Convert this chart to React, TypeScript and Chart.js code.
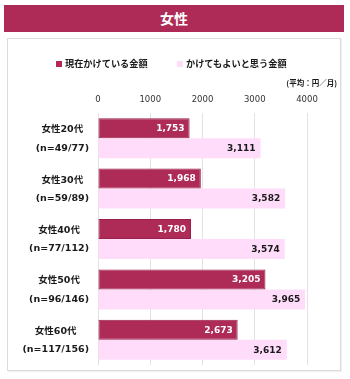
import React, { useEffect, useRef } from "react";
import { Chart, registerables } from "chart.js";

Chart.register(...registerables);

const title = "女性";
const categories = ["女性20代", "女性30代", "女性40代", "女性50代", "女性60代"];
const sampleSizes = ["(n=49/77)", "(n=59/89)", "(n=77/112)", "(n=96/146)", "(n=117/156)"];
const seriesNames = ["現在かけている金額", "かけてもよいと思う金額"];
const currentSpend = [1753, 1968, 1780, 3205, 2673];
const acceptableSpend = [3111, 3582, 3574, 3965, 3612];
const xTickValues = [0, 1000, 2000, 3000, 4000];
const unitLabel = "(平均：円／月)";

const DARK = "#AD2B56";
const DARK_BORDER = "#981F47";
const LIGHT = "#FEDCFA";
const FONT = '"DejaVu Sans", "Noto Sans CJK JP", sans-serif';
const CJK = '"Noto Sans CJK JP", "DejaVu Sans", sans-serif';

const labelPlugin = {
  id: "customLabels",
  afterDatasetsDraw(chart: any) {
    const ctx = chart.ctx;
    ctx.save();
    ctx.font = `bold 9px ${FONT}`;
    ctx.textAlign = "right";
    ctx.textBaseline = "middle";
    chart.data.datasets.forEach((ds: any, di: number) => {
      const meta = chart.getDatasetMeta(di);
      meta.data.forEach((el: any, i: number) => {
        const v = ds.data[i] as number;
        ctx.fillStyle = di === 0 ? "#ffffff" : "#1a1a1a";
        ctx.fillText(v.toLocaleString("en-US"), el.x - 5, el.y + 0.5);
      });
    });
    const yScale = chart.scales.y;
    ctx.fillStyle = "#1a1a1a";
    ctx.textAlign = "center";
    ctx.font = `bold 9.5px ${FONT}`;
    categories.forEach((c, i) => {
      const y = yScale.getPixelForValue(i);
      const w1 = ctx.measureText(c).width;
      const w2 = ctx.measureText(sampleSizes[i]).width;
      const maxW = Math.max(w1, w2);
      const cx = chart.chartArea.left - 9 - maxW / 2;
      ctx.fillText(c, cx, y - 8.5);
      ctx.fillText(sampleSizes[i], cx, y + 10);
    });
    ctx.restore();
  },
};

export default function App() {
  const canvasRef = useRef<HTMLCanvasElement | null>(null);

  useEffect(() => {
    if (!canvasRef.current) return;
    const chart = new Chart(canvasRef.current, {
      type: "bar",
      data: {
        labels: categories,
        datasets: [
          {
            label: seriesNames[0],
            data: currentSpend,
            backgroundColor: DARK,
            borderColor: DARK_BORDER,
            borderWidth: 1,
            borderSkipped: false,
            barPercentage: 1,
            categoryPercentage: 0.794,
          },
          {
            label: seriesNames[1],
            data: acceptableSpend,
            backgroundColor: LIGHT,
            borderWidth: 0,
            barPercentage: 1,
            categoryPercentage: 0.794,
          },
        ],
      },
      options: {
        indexAxis: "y",
        animation: false,
        responsive: true,
        maintainAspectRatio: false,
        layout: { padding: { left: 0, right: 43, top: 0, bottom: 14 } },
        plugins: {
          legend: { display: false },
          tooltip: { enabled: false },
          title: { display: false },
        },
        scales: {
          x: {
            position: "top",
            min: 0,
            max: 4000,
            afterBuildTicks: (scale: any) => {
              scale.ticks = xTickValues.map((v) => ({ value: v }));
            },
            afterFit: (scale: any) => {
              scale.height = 113;
            },
            grid: { color: "#e2e2e2", lineWidth: 1, drawTicks: false },
            border: { display: false },
            ticks: {
              padding: 8,
              color: "#333333",
              font: { family: FONT, size: 8.5 },
              callback: (v: any) => String(v),
            },
          },
          y: {
            afterFit: (scale: any) => {
              scale.width = 98;
            },
            grid: { display: false },
            border: { display: false },
            ticks: { display: false },
          },
        },
      },
      plugins: [labelPlugin],
    });
    return () => chart.destroy();
  }, []);

  return (
    <div style={{ position: "absolute", left: 0, top: 0, width: 350, height: 379, background: "#ffffff", overflow: "hidden" }}>
      <div
        style={{
          position: "absolute",
          left: 4,
          top: 5,
          width: 340,
          height: 27,
          background: DARK,
          color: "#ffffff",
          fontFamily: CJK,
          fontWeight: "bold",
          fontSize: 14,
          lineHeight: "27px",
          textAlign: "center",
        }}
      >
        {title}
      </div>
      <div
        style={{
          position: "absolute",
          left: 7,
          top: 38,
          width: 334,
          height: 333,
          boxSizing: "border-box",
          border: "1px solid #dcdcdc",
          boxShadow: "1px 1px 1px rgba(0,0,0,0.06)",
        }}
      />
      <div style={{ position: "absolute", left: 0, top: 0, width: 350, height: 379 }}>
        <canvas ref={canvasRef} />
      </div>
      <div
        style={{
          position: "absolute",
          left: 56,
          top: 55,
          fontFamily: CJK,
          fontWeight: "bold",
          fontSize: 9.2,
          lineHeight: "16px",
          color: "#1a1a1a",
          whiteSpace: "nowrap",
        }}
      >
        <span style={{ display: "inline-block", width: 6, height: 6, background: DARK, marginRight: 3 }} />
        <span>{seriesNames[0]}</span>
      </div>
      <div
        style={{
          position: "absolute",
          left: 177,
          top: 55,
          fontFamily: CJK,
          fontWeight: "bold",
          fontSize: 9.2,
          lineHeight: "16px",
          color: "#1a1a1a",
          whiteSpace: "nowrap",
        }}
      >
        <span style={{ display: "inline-block", width: 6, height: 6, background: LIGHT, marginRight: 3 }} />
        <span>{seriesNames[1]}</span>
      </div>
      <div
        style={{
          position: "absolute",
          right: 13,
          top: 77,
          fontFamily: CJK,
          fontWeight: "bold",
          fontSize: 7.5,
          lineHeight: "12px",
          color: "#1a1a1a",
          whiteSpace: "nowrap",
        }}
      >
        {unitLabel}
      </div>
    </div>
  );
}
